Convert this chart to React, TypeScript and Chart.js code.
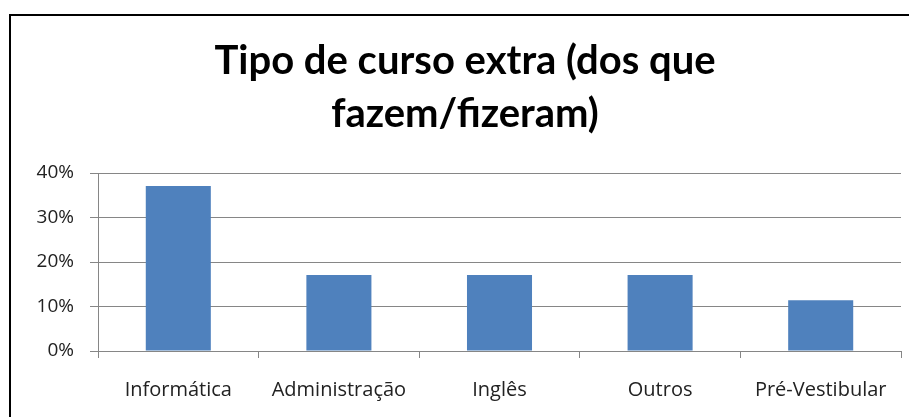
import React, { useEffect, useRef } from "react";
import { Chart, registerables } from "chart.js";

Chart.register(...registerables);

const categories = ["Informática", "Administração", "Inglês", "Outros", "Pré-Vestibular"];
const values = [37.1, 17.1, 17.1, 17.1, 11.4];
const titleLines = ["Tipo de curso extra (dos que", "fazem/fizeram)"];
const yTicks = [0, 10, 20, 30, 40];

export default function App() {
  const ref = useRef<HTMLCanvasElement | null>(null);

  useEffect(() => {
    if (!ref.current) return;
    const chart = new Chart(ref.current, {
      type: "bar",
      data: {
        labels: categories,
        datasets: [
          {
            data: values,
            backgroundColor: "#4F81BD",
            borderWidth: 0,
            categoryPercentage: 1,
            barPercentage: 0.405,
          },
        ],
      },
      options: {
        responsive: false,
        maintainAspectRatio: false,
        animation: false,
        devicePixelRatio: 1,
        layout: { padding: { left: 29, right: 8, top: 12, bottom: 0 } },
        plugins: {
          legend: { display: false },
          tooltip: { enabled: false },
          title: {
            display: true,
            text: titleLines,
            color: "#000",
            font: { family: "Lato", weight: "bold", size: 40, lineHeight: 1.325 },
            padding: { top: 23, bottom: 32 },
          },
        },
        scales: {
          x: {
            offset: true,
            grid: {
              offset: true,
              drawOnChartArea: false,
              drawTicks: true,
              tickLength: 7,
              color: "#868686",
            },
            border: { display: true, color: "#868686" },
            ticks: {
              color: "#222",
              font: { family: "Open Sans", size: 20 },
              padding: 20,
              maxRotation: 0,
              autoSkip: false,
            },
            afterFit: (axis: any) => {
              axis.height = 66;
            },
          },
          y: {
            min: 0,
            max: 40,
            afterBuildTicks: (axis: any) => {
              axis.ticks = yTicks.map((v) => ({ value: v }));
            },
            grid: {
              color: "#868686",
              drawTicks: true,
              tickLength: 8,
            },
            border: { display: true, color: "#868686" },
            ticks: {
              color: "#222",
              font: { family: "Open Sans", size: 19 },
              padding: 16,
              callback: (v: any) => `${v}%`,
            },
            afterFit: (axis: any) => {
              axis.width = 69;
            },
          },
        },
      },
    });
    return () => chart.destroy();
  }, []);

  return (
    <div
      style={{
        position: "fixed",
        left: 0,
        top: 0,
        width: 909,
        height: 417,
        overflow: "hidden",
        background: "#fff",
      }}
    >
      <canvas ref={ref} width={909} height={417} style={{ position: "absolute", left: 0, top: 0 }} />
      <div
        style={{
          position: "absolute",
          left: 9,
          top: 14,
          width: 1000,
          height: 1000,
          borderLeft: "2px solid #000",
          borderTop: "2px solid #000",
          pointerEvents: "none",
        }}
      />
    </div>
  );
}
